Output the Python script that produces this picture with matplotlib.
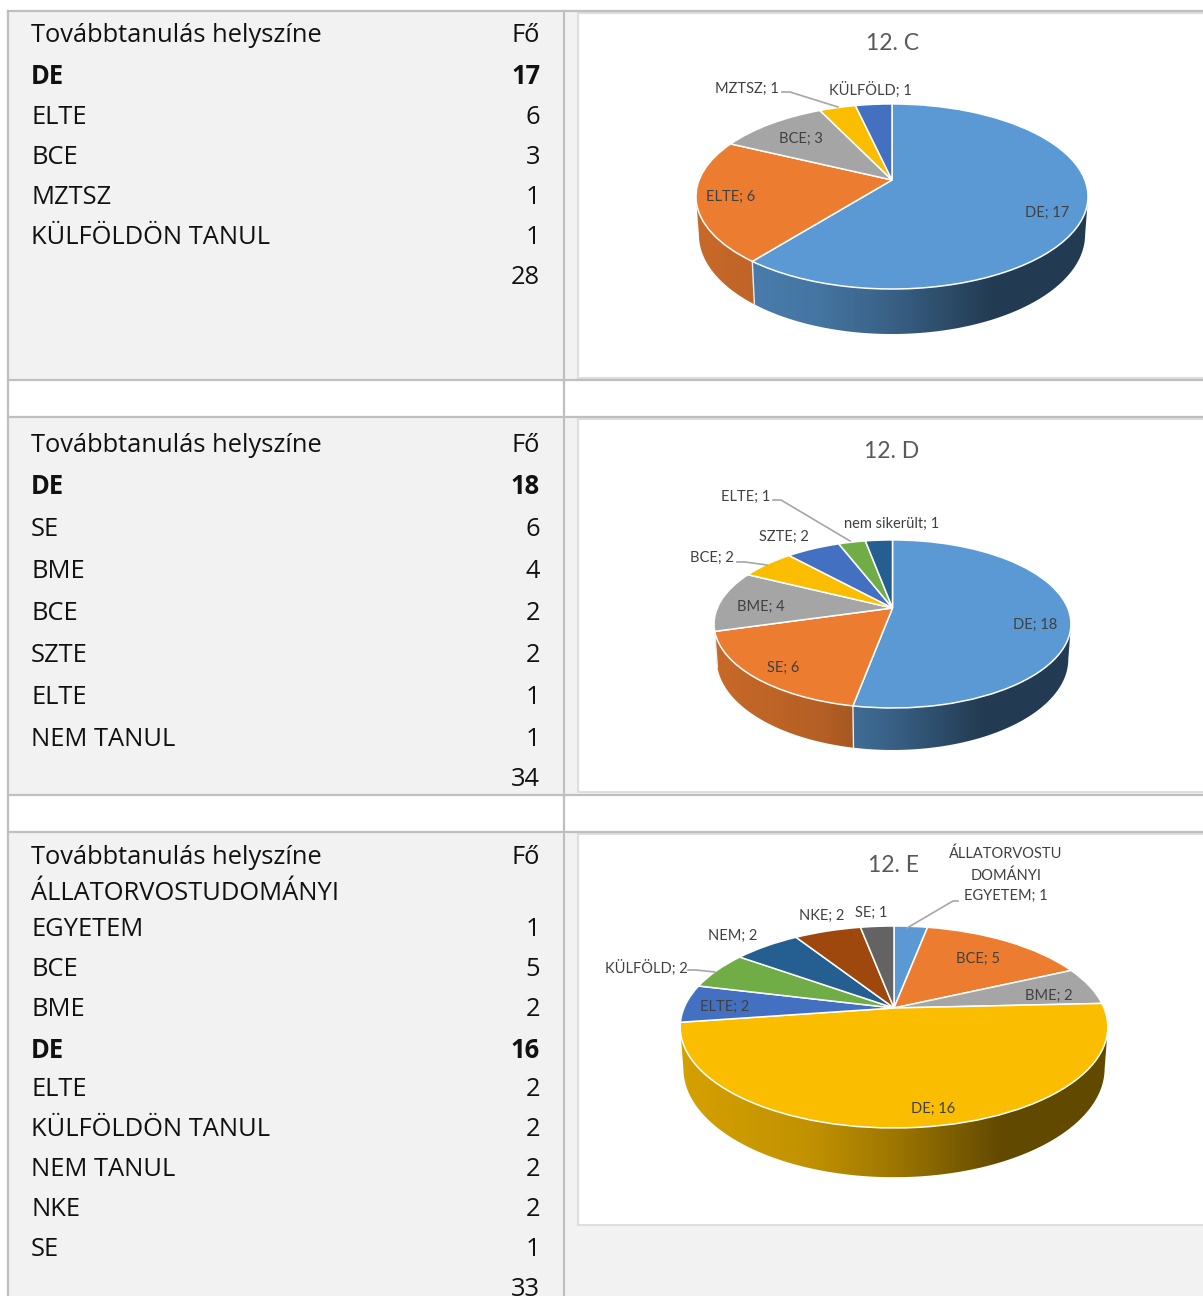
import numpy as np
import matplotlib
matplotlib.use("Agg")
import matplotlib.pyplot as plt
from matplotlib.colors import to_rgb
from matplotlib.patches import Polygon, Rectangle
from matplotlib.transforms import Transform

W, H = 1203, 1296
TABLE_FONT = "Open Sans"
CHART_FONT = "Lato"
OFFICE = ["#5A99D3", "#EB7C30", "#A5A5A5", "#FBBD00", "#4470C2",
          "#70AD47", "#255E91", "#9E480E", "#636363"]

# table contents
rows_c = ["DE", "ELTE", "BCE", "MZTSZ", "KÜLFÖLDÖN TANUL", ""]
fo_c = ["17", "6", "3", "1", "1", "28"]
rows_d = ["DE", "SE", "BME", "BCE", "SZTE", "ELTE", "NEM TANUL", ""]
fo_d = ["18", "6", "4", "2", "2", "1", "1", "34"]
rows_e = ["EGYETEM", "BCE", "BME", "DE", "ELTE", "KÜLFÖLDÖN TANUL",
          "NEM TANUL", "NKE", "SE", ""]
fo_e = ["1", "5", "2", "16", "2", "2", "2", "2", "1", "33"]

# pie series
names_c = ["DE", "ELTE", "BCE", "MZTSZ", "KÜLFÖLD"]
vals_c = [17, 6, 3, 1, 1]
names_d = ["DE", "SE", "BME", "BCE", "SZTE", "ELTE", "nem sikerült"]
vals_d = [18, 6, 4, 2, 2, 1, 1]
names_e = ["ÁLLATORVOSTU\nDOMÁNYI\nEGYETEM", "BCE", "BME", "DE", "ELTE",
           "KÜLFÖLD", "NEM", "NKE", "SE"]
vals_e = [1, 5, 2, 16, 2, 2, 2, 2, 1]

# layout only: row y centres, label centres, leaders
ys_c = [36, 77, 117, 157, 197, 237, 277]
ys_d = [445, 487, 529, 571, 613, 655, 697, 739, 779]
ys_e = [858, 929, 969, 1010, 1050, 1090, 1130, 1170, 1210, 1250, 1289]
pos_c = [(1047, 213), (731, 197), (801, 139), (747, 89), (870, 90)]
pos_d = [(1035, 625), (783, 668), (761, 607), (712, 558), (784, 537), (746, 497), (892, 524)]
pos_e = [(1006, 875), (978, 959), (1049, 996), (933, 1109), (725, 1007),
         (646, 968), (733, 936), (822, 916), (871, 913)]
lead_c = [[(782, 92), (790, 92), (838, 107)]]
lead_d = [[(773, 500), (781, 500), (850, 541)], [(737, 562), (745, 562), (767, 565)]]
lead_e = [[(958, 901), (953, 901), (907, 928)], [(688, 970), (696, 970), (715, 972)]]


class Perspective(Transform):
    # unit circle -> tilted disc in pixel coordinates
    input_dims = 2
    output_dims = 2
    has_inverse = False

    def __init__(self, cx, cy, rx, ry, k):
        super().__init__()
        self.cx, self.cy, self.rx, self.ry, self.k = cx, cy, rx, ry, k

    def transform_non_affine(self, values):
        values = np.asarray(values, dtype=float)
        w = 1 + self.k * values[:, 1]
        return np.column_stack([self.cx + self.rx * values[:, 0] / w,
                                self.cy - self.ry * values[:, 1] / w])


def shade(t):
    return np.interp(t, [0, 0.3, 0.5, 0.75], [0.85, 0.77, 0.63, 0.39])


def draw_pie(ax, vals, colors, cx, cy, rx, ry, k, depth):
    persp = Perspective(cx, cy, rx, ry, k)
    wedges, _ = ax.pie(vals, colors=colors, startangle=90, counterclock=False,
                       wedgeprops=dict(edgecolor="white", linewidth=1.1))
    for wd in wedges:
        wd.set_transform(persp + ax.transData)
        wd.set_clip_on(False)
        wd.set_zorder(1)

    edges = 90 - 360 * np.cumsum([0] + list(vals)) / sum(vals)
    left = cx - rx / np.sqrt(1 - k * k)
    width = 2 * rx / np.sqrt(1 - k * k)

    def rim(th):
        pts = np.column_stack([np.cos(np.radians(th)), np.sin(np.radians(th))])
        top = persp.transform_non_affine(pts)
        low = top.copy()
        low[:, 0] = cx + (top[:, 0] - cx) * 0.985
        low[:, 1] = top[:, 1] + depth / (1 + k * pts[:, 1])
        return top, low

    # side wall: a left-to-right gradient clipped to each slice's outline
    tt = np.linspace(0, 1, 256)
    for i in range(len(vals)):
        th = np.linspace(edges[i], edges[i + 1], 240)
        th = th[np.sin(np.radians(th)) <= -k]
        if len(th) < 2:
            continue
        top, low = rim(th)
        base = np.array(to_rgb(colors[i]))
        grad = (base[None, :] * shade(tt)[:, None])[None, :, :]
        im = ax.imshow(grad, extent=(left, left + width, cy + 2 * ry + depth, cy - ry),
                       aspect="auto", interpolation="bilinear", zorder=0.6)
        im.set_clip_path(Polygon(np.vstack([top, low[::-1]]), closed=True,
                                 transform=ax.transData))

    # light seam where two slices meet on the front of the wall
    for e in edges[:-1]:
        if np.sin(np.radians(e)) < -k:
            top, low = rim(np.array([e]))
            ax.plot([top[0, 0], low[0, 0]], [top[0, 1], low[0, 1]],
                    color="#E8EEF2", lw=1.0, zorder=0.8)


def chart_texts(ax, title, title_pos, names, vals, pos, leaders):
    ax.text(title_pos[0], title_pos[1], title, fontsize=16.5, color="#595959",
            family=CHART_FONT, ha="center", va="center")
    for n, v, p in zip(names, vals, pos):
        ax.text(p[0], p[1], f"{n}; {v}", fontsize=10.5, color="#404040",
                family=CHART_FONT, ha="center", va="center", linespacing=1.6,
                zorder=3)
    for ln in leaders:
        ax.plot([q[0] for q in ln], [q[1] for q in ln], color="#A6A6A6", lw=1.2,
                zorder=2)


def table_texts(ax, ys, rows, fo):
    ax.text(31, ys[0], "Továbbtanulás helyszíne", fontsize=TSIZE, family=TABLE_FONT,
            va="center", color="#111111")
    ax.text(540, ys[0], "Fő", fontsize=TSIZE, family=TABLE_FONT, va="center",
            ha="right", color="#111111")
    for y, r, f in zip(ys[-len(rows):], rows, fo):
        wt = "bold" if r == "DE" else "normal"
        ax.text(31, y, r, fontsize=TSIZE, family=TABLE_FONT, va="center",
                fontweight=wt, color="#111111")
        ax.text(540, y, f, fontsize=TSIZE, family=TABLE_FONT, va="center",
                ha="right", fontweight=wt, color="#111111")


TSIZE = 18.4
fig = plt.figure(figsize=(W / 100, H / 100), dpi=100, facecolor="white")
ax = fig.add_axes([0, 0, 1, 1])

draw_pie(ax, vals_c, OFFICE, 892, 180, 192.9, 89.6, 0.178, 37)
draw_pie(ax, vals_d, OFFICE, 892.5, 608, 175.2, 81, 0.19, 34)
draw_pie(ax, vals_e, OFFICE, 894, 1008, 210, 97.4, 0.188, 40)

ax.set_aspect("auto")
ax.set_xlim(0, W)
ax.set_ylim(H, 0)
ax.set_axis_off()

GRID = "#BFBFBF"
for top, bot in [(11, 380), (417, 795), (832, 1296)]:
    ax.add_patch(Rectangle((8, top), W - 8, bot - top, fc="#F2F2F2", ec="none", zorder=0))
for top, bot in [(13, 378), (419, 792), (834, 1225)]:
    ax.add_patch(Rectangle((578, top), W - 578 + 5, bot - top, fc="white",
                           ec="#DEDEDE", lw=1.5, zorder=0.2))
for y in [11, 380, 417, 795, 832]:
    ax.plot([8, W], [y, y], color=GRID, lw=1.6, zorder=0.4)
ax.plot([8, 8], [11, H], color=GRID, lw=1.6, zorder=0.4)
ax.plot([564, 564], [11, H], color=GRID, lw=1.6, zorder=0.4)

table_texts(ax, ys_c, rows_c, fo_c)
table_texts(ax, ys_d, rows_d, fo_d)
table_texts(ax, ys_e, rows_e, fo_e)
ax.text(31, 894, "ÁLLATORVOSTUDOMÁNYI", fontsize=TSIZE, family=TABLE_FONT,
        va="center", color="#111111")

chart_texts(ax, "12. C", (892, 44), names_c, vals_c, pos_c, lead_c)
chart_texts(ax, "12. D", (892, 451), names_d, vals_d, pos_d, lead_d)
chart_texts(ax, "12. E", (894, 865), names_e, vals_e, pos_e, lead_e)

fig.savefig("out.png", dpi=100)
